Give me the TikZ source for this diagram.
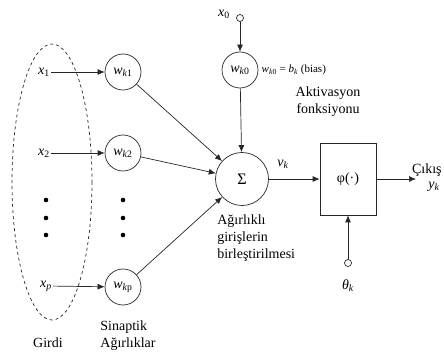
\documentclass[tikz,border=0pt]{standalone}
\usepackage{fontspec}
\setmainfont{Liberation Serif}
\usetikzlibrary{arrows.meta}
\newcommand\vx[1]{\textit{x}\textsubscript{#1}}
\newcommand\vw[1]{\textit{w}\textsubscript{\textit{k}#1}}
\begin{document}
\begin{tikzpicture}[x=1pt,y=-1pt,
  font=\fontsize{14}{17}\selectfont,
  line width=0.7pt, draw=black!85,
  wnode/.style={circle,draw,minimum size=36pt,inner sep=0pt},
  arr/.style={-{Latex[length=7pt,width=6pt]}},
  smallc/.style={circle,draw,minimum size=7pt,inner sep=0pt},
  lbl/.style={inner sep=1pt}]
\useasboundingbox (0,0) rectangle (444,363);
% input ellipse
\draw[dashed] (52,182) ellipse[x radius=40, y radius=138];
% inputs
\node[lbl] (x1) at (44,72) {\vx{1}};
\node[lbl] (x2) at (44,153) {\vx{2}};
\node[lbl] (xp) at (46,286) {\textit{x}\textsubscript{\textit{p}}};
% weights
\node[wnode] (w1) at (123,72) {\vw{1}};
\node[wnode] (w2) at (123,153) {\vw{2}};
\node[wnode] (wp) at (123,287) {\vw{p}};
\draw[arr] (x1) -- (w1);
\draw[arr] (x2) -- (w2);
\draw[arr] (xp) -- (wp);
% dots
\foreach \yy in {200,218,235}{
  \fill (46,\yy) circle (2.3);
  \fill (123,\yy) circle (2.3);
}
% summation
\node[circle,draw,minimum size=53pt,inner sep=0pt,font=\fontsize{16}{18}\selectfont] (sum) at (242,179) {Σ};
\draw[arr] (w1) -- (sum);
\draw[arr] (w2) -- (sum);
\draw[arr] (wp) -- (sum);
% bias
\node[lbl] (x0) at (224,14) {\vx{0}};
\node[smallc] (x0c) at (240,18) {};
\node[wnode] (w0) at (240,70) {\vw{0}};
\draw[arr] (x0c) -- (w0);
\draw[arr] (w0) -- (sum);
\node[anchor=west,font=\fontsize{11}{13}\selectfont] (bias) at (258,70) {\vw{0} = \textit{b}\textsubscript{\textit{k}} (bias)};
% activation
\node[align=center] (akt) at (328,102) {Aktivasyon\\fonksiyonu};
\node[draw,minimum width=56pt,minimum height=72pt,inner sep=0pt] (phi) at (348,179) {φ(·)};
\draw[arr] (sum) -- (phi);
\node[lbl] (vk) at (283,164) {\textit{v}\textsubscript{\textit{k}}};
\coordinate (out) at (416,179);
\draw[arr] (phi) -- (out);
\node[anchor=east,lbl] (cikis) at (443,170) {Çıkış};
\node[lbl] (yk) at (434,187) {\textit{y}\textsubscript{\textit{k}}};
% threshold
\node[smallc] (th) at (348,263) {};
\draw[arr] (th) -- (phi);
\node[lbl] (thl) at (348,286) {\textit{θ}\textsubscript{\textit{k}}};
% captions
\node[align=left,anchor=north west,lbl] (cap) at (216,213) {Ağırlıklı\\girişlerin\\birleştirilmesi};
\node[lbl] (girdi) at (48,343) {Girdi};
\node[align=left,lbl] (sin) at (128,336) {Sinaptik\\Ağırlıklar};
\end{tikzpicture}
\end{document}
